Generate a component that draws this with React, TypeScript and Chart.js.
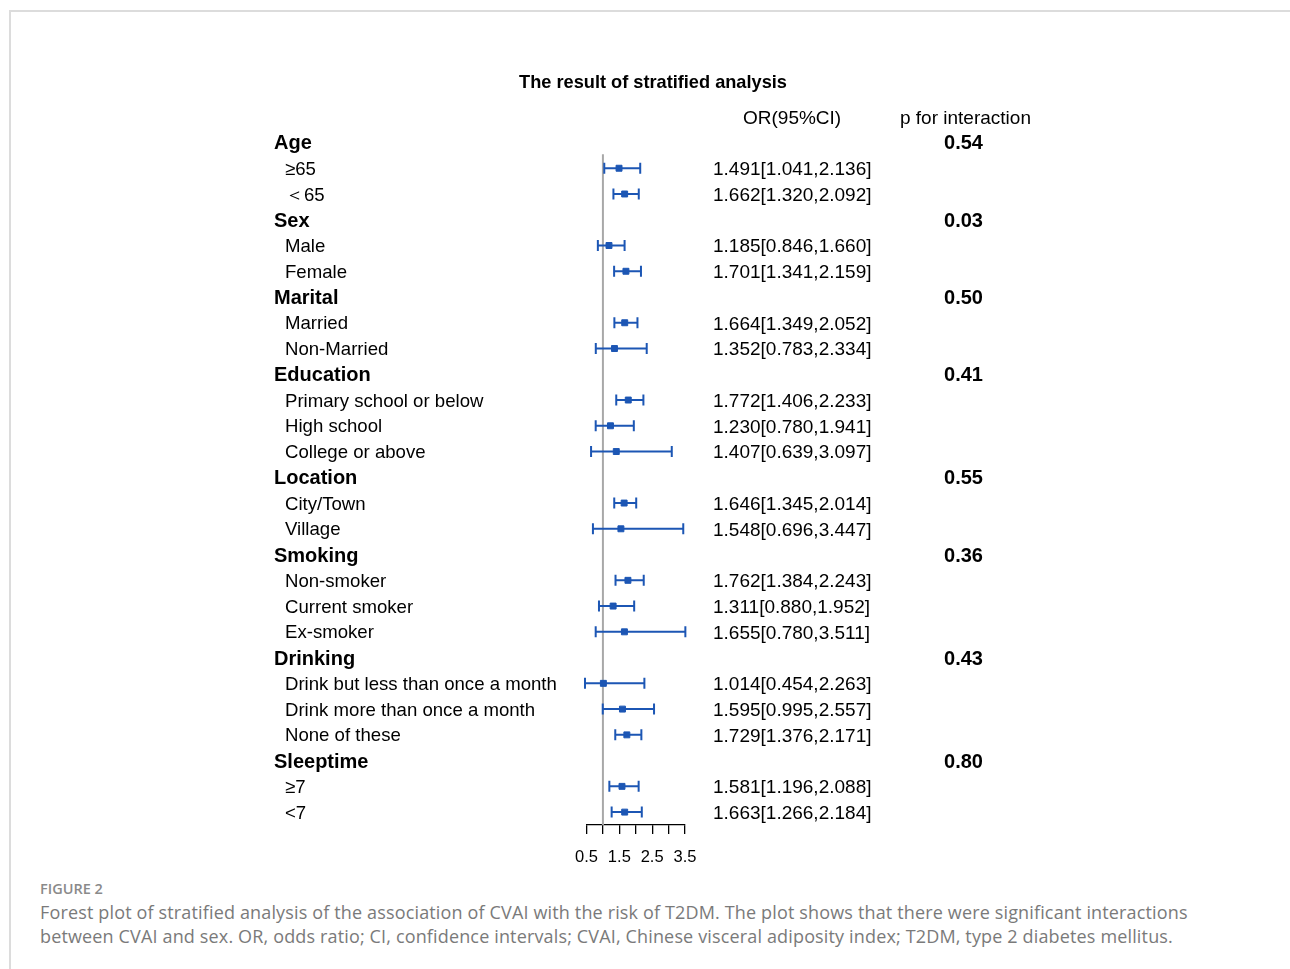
import React, { useEffect, useRef } from "react";
import { Chart, registerables } from "chart.js";

Chart.register(...registerables);

const rowLabels = [
  "Age", "≥65", "＜65",
  "Sex", "Male", "Female",
  "Marital", "Married", "Non-Married",
  "Education", "Primary school or below", "High school", "College or above",
  "Location", "City/Town", "Village",
  "Smoking", "Non-smoker", "Current smoker", "Ex-smoker",
  "Drinking", "Drink but less than once a month", "Drink more than once a month", "None of these",
  "Sleeptime", "≥7", "<7",
];

const isGroup = [
  true, false, false,
  true, false, false,
  true, false, false,
  true, false, false, false,
  true, false, false,
  true, false, false, false,
  true, false, false, false,
  true, false, false,
];

const orValues: (number | null)[] = [
  null, 1.491, 1.662,
  null, 1.185, 1.701,
  null, 1.664, 1.352,
  null, 1.772, 1.23, 1.407,
  null, 1.646, 1.548,
  null, 1.762, 1.311, 1.655,
  null, 1.014, 1.595, 1.729,
  null, 1.581, 1.663,
];

const lowerCI: (number | null)[] = [
  null, 1.041, 1.32,
  null, 0.846, 1.341,
  null, 1.349, 0.783,
  null, 1.406, 0.78, 0.639,
  null, 1.345, 0.696,
  null, 1.384, 0.88, 0.78,
  null, 0.454, 0.995, 1.376,
  null, 1.196, 1.266,
];

const upperCI: (number | null)[] = [
  null, 2.136, 2.092,
  null, 1.66, 2.159,
  null, 2.052, 2.334,
  null, 2.233, 1.941, 3.097,
  null, 2.014, 3.447,
  null, 2.243, 1.952, 3.511,
  null, 2.263, 2.557, 2.171,
  null, 2.088, 2.184,
];

const pValues: (string | null)[] = [
  "0.54", null, null,
  "0.03", null, null,
  "0.50", null, null,
  "0.41", null, null, null,
  "0.55", null, null,
  "0.36", null, null, null,
  "0.43", null, null, null,
  "0.80", null, null,
];

const xTickLabels = ["0.5", "1.5", "2.5", "3.5"];
const xMin = 0.5;
const xMax = 3.5;
const xStep = 0.5;
const referenceValue = 1;

const chartTitle = "The result of stratified analysis";
const orHeader = "OR(95%CI)";
const pHeader = "p for interaction";

const BLUE = "#1c56b4";
const FONT = "'Liberation Sans', Arial, sans-serif";

const forestPlugin = {
  id: "forestPlugin",
  beforeDatasetsDraw(chart: any) {
    const ctx = chart.ctx;
    const xs = chart.scales.x;
    const ys = chart.scales.y;
    ctx.save();
    const rx = xs.getPixelForValue(referenceValue);
    ctx.strokeStyle = "#a8a8a8";
    ctx.lineWidth = 2;
    ctx.beginPath();
    ctx.moveTo(rx, ys.getPixelForValue(0.5) - 1);
    ctx.lineTo(rx, chart.chartArea.bottom);
    ctx.stroke();
    ctx.strokeStyle = BLUE;
    ctx.lineWidth = 2;
    for (let i = 0; i < rowLabels.length; i++) {
      const lo = lowerCI[i];
      const hi = upperCI[i];
      if (lo == null || hi == null) continue;
      const y = ys.getPixelForValue(i);
      const x1 = xs.getPixelForValue(lo);
      const x2 = xs.getPixelForValue(hi);
      ctx.beginPath();
      ctx.moveTo(x1, y);
      ctx.lineTo(x2, y);
      ctx.moveTo(x1, y - 5.5);
      ctx.lineTo(x1, y + 5.5);
      ctx.moveTo(x2, y - 5.5);
      ctx.lineTo(x2, y + 5.5);
      ctx.stroke();
    }
    ctx.restore();
  },
  afterDraw(chart: any) {
    const ctx = chart.ctx;
    const ys = chart.scales.y;
    ctx.save();
    ctx.fillStyle = "#000";
    ctx.textBaseline = "middle";
    ctx.font = `bold 18.2px ${FONT}`;
    ctx.textAlign = "center";
    ctx.fillText(chartTitle, 653, 83);
    ctx.font = `19px ${FONT}`;
    ctx.textAlign = "left";
    ctx.fillText(orHeader, 743, ys.getPixelForValue(-1) + 2.5);
    ctx.fillText(pHeader, 900, ys.getPixelForValue(-1) + 2.5);
    for (let i = 0; i < rowLabels.length; i++) {
      const y = ys.getPixelForValue(i) + 1.5;
      if (isGroup[i]) {
        ctx.font = `bold 20px ${FONT}`;
        ctx.textAlign = "left";
        ctx.fillText(rowLabels[i], 274, y);
        const p = pValues[i];
        if (p) {
          ctx.textAlign = "center";
          ctx.fillText(p, 963.5, y);
        }
      } else {
        ctx.font = `18.6px ${FONT}`;
        ctx.textAlign = "left";
        ctx.fillText(rowLabels[i], 285, y);
        const o = orValues[i];
        const lo = lowerCI[i];
        const hi = upperCI[i];
        if (o != null && lo != null && hi != null) {
          ctx.font = `19px ${FONT}`;
          ctx.fillText(`${o.toFixed(3)}[${lo.toFixed(3)},${hi.toFixed(3)}]`, 713, y);
        }
      }
    }
    ctx.restore();
  },
};

export default function App() {
  const canvasRef = useRef<HTMLCanvasElement | null>(null);

  useEffect(() => {
    if (!canvasRef.current) return;
    const points: { x: number; y: number }[] = [];
    orValues.forEach((v, i) => {
      if (v != null) points.push({ x: v, y: i });
    });
    const chart = new Chart(canvasRef.current, {
      type: "scatter",
      data: {
        datasets: [
          {
            data: points,
            pointStyle: "rect",
            pointRadius: 4.2,
            pointBorderWidth: 1,
            backgroundColor: BLUE,
            borderColor: BLUE,
          },
        ],
      },
      options: {
        responsive: false,
        animation: false,
        events: [],
        layout: { padding: { left: 586.5, right: 1290 - 685, top: 129.6, bottom: 0 } },
        plugins: {
          legend: { display: false },
          tooltip: { enabled: false },
          title: { display: false },
        },
        scales: {
          x: {
            type: "linear",
            min: xMin,
            max: xMax,
            afterFit: (scale: any) => {
              scale.height = 45;
            },
            ticks: {
              stepSize: xStep,
              autoSkip: false,
              maxRotation: 0,
              padding: 14,
              color: "#000",
              font: { family: FONT, size: 16.5 },
              callback: (v: any) => {
                const s = String(Number(v));
                return xTickLabels.includes(s) ? s : "";
              },
            },
            grid: {
              drawOnChartArea: false,
              drawTicks: true,
              tickLength: 9,
              color: "#000",
              lineWidth: 1.3,
            },
            border: { display: true, color: "#000", width: 1.3 },
          },
          y: {
            type: "linear",
            display: false,
            reverse: true,
            min: -0.5,
            max: 26.5,
          },
        },
      },
      plugins: [forestPlugin],
    } as any);
    return () => chart.destroy();
  }, []);

  return (
    <div style={{ position: "absolute", left: 0, top: 0, width: 1290, height: 969, overflow: "hidden", background: "#fff" }}>
      <div
        style={{
          position: "absolute",
          left: 9,
          top: 10,
          right: -10,
          bottom: -10,
          borderTop: "2px solid #dcdcdc",
          borderLeft: "2px solid #dcdcdc",
        }}
      />
      <canvas ref={canvasRef} width={1290} height={870} style={{ position: "absolute", left: 0, top: 0, width: 1290, height: 870 }} />
      <div
        style={{
          position: "absolute",
          left: 40,
          top: 879,
          fontFamily: "'Open Sans', sans-serif",
          fontWeight: 600,
          fontSize: 14.5,
          color: "#8a8a8a",
          lineHeight: "20px",
        }}
      >
        FIGURE 2
      </div>
      <div
        style={{
          position: "absolute",
          left: 40,
          top: 900,
          width: 1240,
          fontFamily: "'Open Sans', sans-serif",
          fontSize: 18,
          letterSpacing: "0.15px",
          color: "#7a7a7a",
          lineHeight: "24px",
        }}
      >
        <div style={{ whiteSpace: "nowrap" }}>
          Forest plot of stratified analysis of the association of CVAI with the risk of T2DM. The plot shows that there were significant interactions
        </div>
        <div style={{ whiteSpace: "nowrap" }}>
          between CVAI and sex. OR, odds ratio; CI, confidence intervals; CVAI, Chinese visceral adiposity index; T2DM, type 2 diabetes mellitus.
        </div>
      </div>
    </div>
  );
}
